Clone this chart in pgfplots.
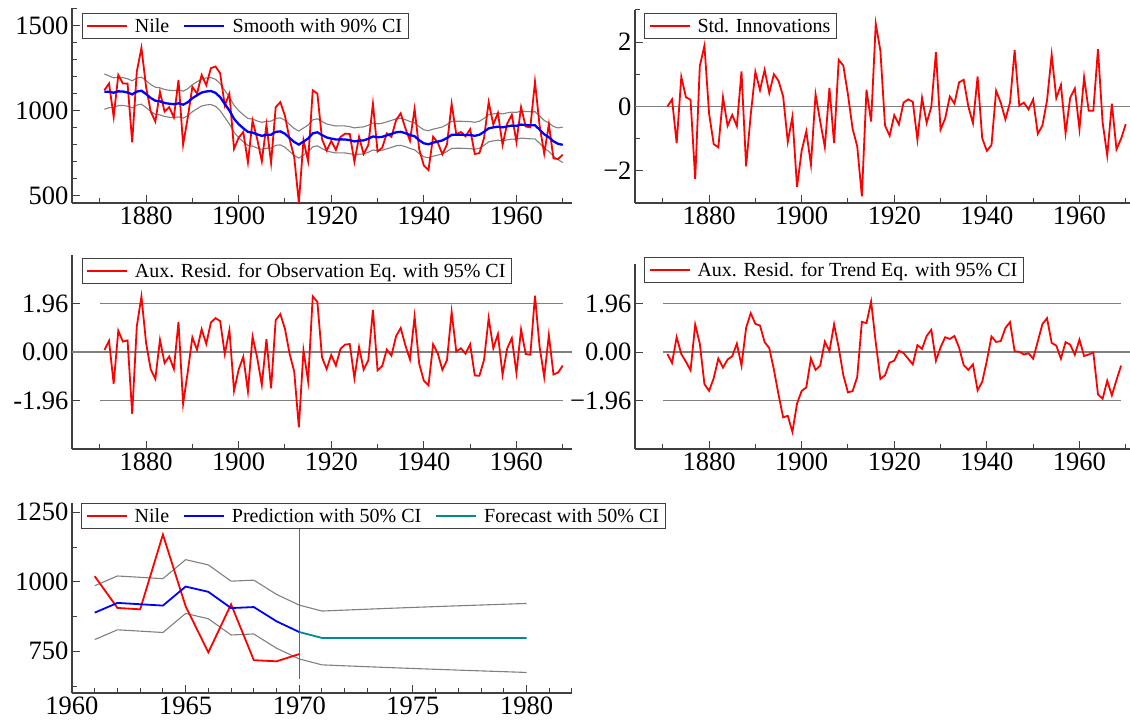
\documentclass[border=0pt]{standalone}
\usepackage{fontspec}
\setmainfont{Liberation Serif}
\usepackage{pgfplots}
\usepackage{pgfplotstable}
\pgfplotsset{compat=1.18}
\definecolor{cired}{RGB}{255,0,0}
\definecolor{ciblue}{RGB}{0,0,255}
\definecolor{citeal}{RGB}{0,140,140}
\definecolor{cigray}{RGB}{128,128,128}
\definecolor{axgray}{RGB}{64,64,64}

\pgfplotstableread{
year nile sm h inn obs st
1871 1120 1111.7 104.5 0.00 0.08 -0.08
1872 1160 1110.8 93.7 0.22 0.45 -0.44
1873 963 1105.3 87.4 -1.14 -1.28 0.60
1874 1210 1113.5 83.9 0.92 0.86 -0.08
1875 1160 1112.3 81.9 0.29 0.42 -0.39
1876 1160 1106.6 80.8 0.21 0.47 -0.74
1877 813 1095.6 80.2 -2.26 -2.50 1.11
1878 1230 1112.1 79.9 1.26 1.04 0.34
1879 1370 1117.2 79.6 1.89 2.24 -1.30
1880 1140 1097.7 79.6 -0.22 0.37 -1.57
1881 995 1074.3 79.6 -1.17 -0.70 -1.06
1882 935 1058.3 79.6 -1.27 -1.09 -0.26
1883 1110 1054.2 79.6 0.29 0.49 -0.63
1884 994 1044.8 79.6 -0.60 -0.45 -0.30
1885 1020 1040.3 79.6 -0.26 -0.18 -0.17
1886 960 1037.8 79.6 -0.61 -0.69 0.34
1887 1180 1042.8 79.6 1.09 1.21 -0.55
1888 799 1034.8 79.6 -1.86 -2.09 0.98
1889 958 1049.1 79.6 -0.25 -0.81 1.57
1890 1140 1072.8 79.6 1.08 0.59 1.14
1891 1100 1090.1 79.6 0.51 0.09 1.07
1892 1210 1106.4 79.6 1.14 0.92 0.40
1893 1150 1112.7 79.6 0.42 0.33 0.16
1894 1250 1115.3 79.6 1.00 1.19 -0.71
1895 1260 1104.7 79.6 0.80 1.37 -1.72
1896 1220 1079.0 79.6 0.31 1.25 -2.64
1897 1030 1039.3 79.6 -1.10 -0.08 -2.58
1898 1100 1000.3 79.6 -0.32 0.88 -3.23
1899 774 951.6 79.6 -2.50 -1.57 -2.08
1900 840 919.8 79.6 -1.37 -0.71 -1.57
1901 874 895.9 79.6 -0.77 -0.19 -1.43
1902 694 874.2 79.6 -1.81 -1.59 -0.26
1903 940 870.0 79.6 0.38 0.62 -0.72
1904 833 859.2 79.6 -0.46 -0.23 -0.55
1905 701 851.0 79.6 -1.26 -1.33 0.42
1906 916 857.1 79.6 0.58 0.52 0.04
1907 692 857.8 79.6 -1.14 -1.47 1.12
1908 1020 874.5 79.6 1.45 1.29 0.18
1909 1050 877.3 79.6 1.27 1.53 -0.94
1910 969 863.3 79.6 0.37 0.94 -1.63
1911 831 838.8 79.6 -0.69 -0.07 -1.58
1912 726 814.8 79.6 -1.24 -0.79 -1.01
1913 456 799.4 79.6 -2.79 -3.04 1.22
1914 824 817.2 79.6 0.52 0.06 1.17
1915 702 835.0 79.6 -0.47 -1.18 2.04
1916 1120 865.6 79.6 2.57 2.25 0.39
1917 1100 871.9 79.6 1.74 2.02 -1.09
1918 832 855.7 79.6 -0.59 -0.21 -0.94
1919 764 841.5 79.6 -0.91 -0.69 -0.43
1920 821 834.8 79.6 -0.27 -0.12 -0.35
1921 768 829.6 79.6 -0.56 -0.55 0.05
1922 845 830.3 79.6 0.12 0.13 -0.04
1923 864 829.6 79.6 0.22 0.30 -0.27
1924 862 825.7 79.6 0.15 0.32 -0.50
1925 698 818.1 79.6 -1.03 -1.06 0.28
1926 845 822.2 79.6 0.27 0.20 0.13
1927 744 824.2 79.6 -0.51 -0.71 0.65
1928 796 833.9 79.6 -0.01 -0.34 0.90
1929 1040 847.4 79.6 1.69 1.70 -0.35
1930 759 842.3 79.6 -0.72 -0.74 0.19
1931 781 845.1 79.6 -0.37 -0.57 0.60
1932 865 854.1 79.6 0.31 0.10 0.53
1933 845 862.2 79.6 0.09 -0.15 0.65
1934 944 871.9 79.6 0.75 0.64 0.18
1935 984 874.8 79.6 0.83 0.97 -0.53
1936 897 867.0 79.6 0.00 0.27 -0.72
1937 822 856.1 79.6 -0.52 -0.30 -0.50
1938 1010 848.5 79.6 0.93 1.43 -1.55
1939 771 825.3 79.6 -0.99 -0.48 -1.20
1940 676 807.0 79.6 -1.38 -1.16 -0.35
1941 649 801.5 79.6 -1.20 -1.35 0.63
1942 846 810.8 79.6 0.49 0.31 0.41
1943 812 817.1 79.6 0.12 -0.05 0.44
1944 742 823.8 79.6 -0.40 -0.72 0.97
1945 801 838.3 79.6 0.12 -0.33 1.21
1946 1040 856.6 79.6 1.75 1.62 0.03
1947 860 857.3 79.6 0.03 0.02 0.01
1948 874 857.5 79.6 0.12 0.15 -0.10
1949 848 856.0 79.6 -0.09 -0.07 -0.05
1950 890 855.4 79.6 0.22 0.31 -0.27
1951 744 851.3 79.6 -0.85 -0.95 0.43
1952 749 857.6 79.6 -0.59 -0.96 1.13
1953 838 874.5 79.6 0.19 -0.32 1.37
1954 1050 895.2 79.6 1.61 1.37 0.37
1955 918 900.9 79.6 0.26 0.15 0.26
1956 986 904.9 79.6 0.67 0.72 -0.27
1957 797 900.9 79.6 -0.83 -0.92 0.40
1958 923 906.9 79.6 0.27 0.14 0.30
1959 975 911.4 79.6 0.56 0.56 -0.11
1960 815 909.8 79.6 -0.70 -0.84 0.50
1961 1020 917.3 79.6 0.91 0.91 -0.16
1962 906 915.0 79.6 -0.13 -0.08 -0.10
1963 901 913.4 79.9 -0.13 -0.11 -0.02
1964 1170 913.1 80.2 1.78 2.27 -1.71
1965 912 887.9 80.8 -0.49 0.21 -1.89
1966 746 859.9 81.9 -1.52 -1.01 -1.16
1967 919 842.9 83.9 0.09 0.68 -1.75
1968 718 818.7 87.4 -1.33 -0.91 -1.13
1969 714 804.0 93.7 -1.00 -0.83 -0.55
1970 740 798.1 104.5 -0.55 -0.55 nan
}\niletab

\pgfplotstableread{
year nile pred
1961 1020 889.0
1962 906 924.1
1963 901 919.3
1964 1170 914.4
1965 912 982.9
1966 746 963.9
1967 919 905.5
1968 718 909.1
1969 714 857.9
1970 740 819.3
}\predtab

\pgfplotstableread{
year fc
1970 819.3
1971 798.0
1972 798.0
1973 798.0
1974 798.0
1975 798.0
1976 798.0
1977 798.0
1978 798.0
1979 798.0
1980 798.0
}\fctab

\pgfplotstableread{
year up lo
1961 985.8 792.2
1962 1020.9 827.3
1963 1016.1 822.5
1964 1011.2 817.6
1965 1079.7 886.1
1966 1060.7 867.1
1967 1002.3 808.7
1968 1005.9 812.3
1969 954.7 761.1
1970 916.1 722.5
1971 894.8 701.2
1972 898.2 697.8
1973 901.5 694.5
1974 904.7 691.3
1975 907.8 688.2
1976 910.8 685.2
1977 913.7 682.3
1978 916.5 679.5
1979 919.3 676.7
1980 922.1 673.9
}\citab

\pgfplotsset{
  panel/.style={
    scale only axis,
    axis lines=left,
    axis line style={-, line width=1.2pt, axgray},
    tick align=inside,
    major tick length=8pt,
    minor tick length=4.5pt,
    tick style={line width=1pt, axgray},
    tick label style={font=\fontsize{26.5}{30}\selectfont},
    /pgf/number format/assume math mode=true,
    /pgf/number format/1000 sep={},
    clip=false,
    legend style={draw=axgray, line width=0.8pt, fill=white,
      font=\fontsize{20}{22}\selectfont,
      at={(0,1)}, anchor=north west,
      legend columns=-1,
      inner xsep=4pt, inner ysep=2.8pt,
      /tikz/every even column/.append style={column sep=12pt},
      /tikz/every odd column/.append style={column sep=5pt}},
    legend image code/.code={\draw[#1] (0pt,0pt) -- (40pt,0pt);},
    legend cell align=left,
  },
  longx/.style={xmin=1864, xmax=1972, width=500pt,
    xtick={1880,1900,...,1960}, minor xtick={1870,1890,...,1970}},
}

\begin{document}
\begin{tikzpicture}
\useasboundingbox (0,0) rectangle (1130pt,727pt);

% Panel 1
\begin{axis}[panel, longx, at={(72pt,524pt)}, anchor=south west, height=195pt,
  ymin=455, ymax=1605, ytick={500,1000,1500}, minor ytick={500,600,...,1600},
  legend style={xshift=9.7pt, yshift=-5.3pt}]
\addplot[cigray, line width=1.1pt, forget plot] table[x=year, y expr=\thisrow{sm}+\thisrow{h}]{\niletab};
\addplot[cigray, line width=1.1pt, forget plot] table[x=year, y expr=\thisrow{sm}-\thisrow{h}]{\niletab};
\addplot[cired, line width=1.8pt] table[x=year, y=nile]{\niletab};
\addlegendentry{Nile}
\addplot[ciblue, line width=2.3pt] table[x=year, y=sm]{\niletab};
\addlegendentry{Smooth with 90\% CI}
\end{axis}

% Panel 2
\begin{axis}[panel, longx, at={(635pt,524pt)}, anchor=south west, height=193pt,
  ymin=-3, ymax=3, ytick={-2,0,2}, yticklabels={−2,0,2}, minor ytick={-3,-1,1,3},
  legend style={xshift=9.3pt, yshift=-3.3pt}]
\addplot[cigray, line width=1.1pt, forget plot] coordinates {(1864,0) (1972,0)};
\addplot[cired, line width=1.8pt] table[x=year, y=inn]{\niletab};
\addlegendentry{Std. Innovations}
\end{axis}

% Panel 3
\begin{axis}[panel, longx, at={(72pt,278pt)}, anchor=south west, height=194pt,
  ymin=-3.92, ymax=3.92, ytick={-1.96,0,1.96}, yticklabels={-1.96,0.00,1.96},
  legend style={xshift=9.7pt, yshift=-3pt}]
\addplot[cigray, line width=1.1pt, forget plot] coordinates {(1864,0) (1972,0)};
\addplot[cigray, line width=1.1pt, forget plot] coordinates {(1870,1.96) (1970,1.96)};
\addplot[cigray, line width=1.1pt, forget plot] coordinates {(1870,-1.96) (1970,-1.96)};
\addplot[cired, line width=1.8pt] table[x=year, y=obs]{\niletab};
\addlegendentry{Aux. Resid. for Observation Eq. with 95\% CI}
\end{axis}

% Panel 4
\begin{axis}[panel, longx, at={(635pt,278pt)}, anchor=south west, height=185pt,
  ymin=-3.92, ymax=3.56, ytick={-1.96,0,1.96}, yticklabels={−1.96,0.00,1.96},
  legend style={xshift=9.3pt, yshift=6.7pt}]
\addplot[cigray, line width=1.1pt, forget plot] coordinates {(1870,0) (1972,0)};
\addplot[cigray, line width=1.1pt, forget plot] coordinates {(1870,1.96) (1969,1.96)};
\addplot[cigray, line width=1.1pt, forget plot] coordinates {(1870,-1.96) (1969,-1.96)};
\addplot[cired, line width=1.8pt] table[x=year, y=st]{\niletab};
\addlegendentry{Aux. Resid. for Trend Eq. with 95\% CI}
\end{axis}

% Panel 5
\begin{axis}[panel, at={(72pt,34pt)}, anchor=south west, width=500pt, height=190pt,
  xmin=1960, xmax=1982, xtick={1960,1965,...,1980}, minor xtick={1961,1962,...,1982},
  ymin=600, ymax=1283.5, ytick={750,1000,1250}, minor ytick={625,875,1125},
  legend style={xshift=9.5pt, yshift=0pt}]
\addplot[cigray, line width=1.1pt, forget plot] table[x=year, y=up]{\citab};
\addplot[cigray, line width=1.1pt, forget plot] table[x=year, y=lo]{\citab};
\addplot[black!60, line width=1.1pt, forget plot] coordinates {(1970,650) (1970,1190)};
\addplot[cired, line width=1.8pt] table[x=year, y=nile]{\predtab};
\addlegendentry{Nile}
\addplot[ciblue, line width=1.8pt] table[x=year, y=pred]{\predtab};
\addlegendentry{Prediction with 50\% CI}
\addplot[citeal, line width=1.8pt] table[x=year, y=fc]{\fctab};
\addlegendentry{Forecast with 50\% CI}
\end{axis}
\end{tikzpicture}
\end{document}
